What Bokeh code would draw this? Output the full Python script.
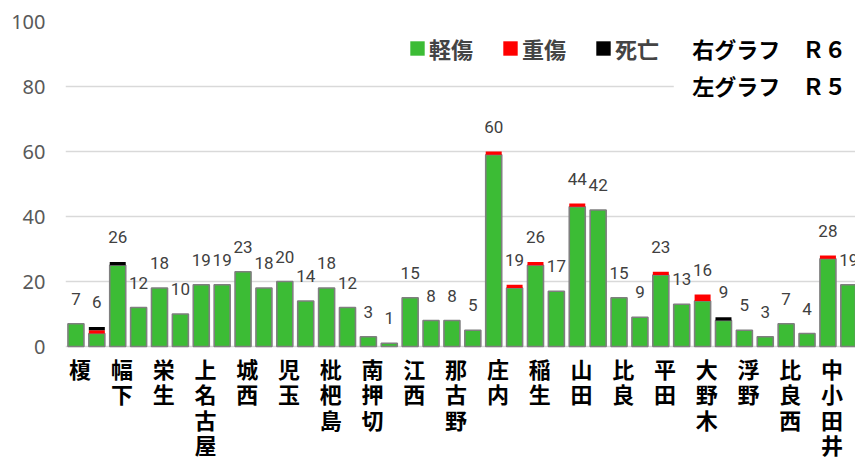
import numpy as np
from bokeh.plotting import figure
from bokeh.models import FixedTicker, Legend, LegendItem, Label, BoxAnnotation, ColumnDataSource, Range1d
from bokeh.core.properties import value
from bokeh.embed import file_html
from bokeh.resources import INLINE

categories = ["榎", "幅下", "栄生", "上名古屋", "城西", "児玉", "枇杷島", "南押切", "江西", "那古野",
              "庄内", "稲生", "山田", "比良", "平田", "大野木", "浮野", "比良西", "中小田井"]
# left bars: R5, right bars: R6
r5_minor   = [7, 25, 18, 19, 23, 20, 18, 3, 15, 8, 59, 25, 43, 15, 22, 14, 5, 7, 27]
r5_serious = [0, 0, 0, 0, 0, 0, 0, 0, 0, 0, 1, 1, 1, 0, 1, 2, 0, 0, 1]
r5_death   = [0, 1, 0, 0, 0, 0, 0, 0, 0, 0, 0, 0, 0, 0, 0, 0, 0, 0, 0]
r6_minor   = [4, 12, 10, 19, 18, 14, 12, 1, 8, 5, 18, 17, 42, 9, 13, 8, 3, 4, 19]
r6_serious = [1, 0, 0, 0, 0, 0, 0, 0, 0, 0, 1, 0, 0, 0, 0, 0, 0, 0, 0]
r6_death   = [1, 0, 0, 0, 0, 0, 0, 0, 0, 0, 0, 0, 0, 0, 0, 1, 0, 0, 0]
y_ticks = [0, 20, 40, 60, 80, 100]

GREEN = "#3cbc35"
RED = "#ff0000"
BLACK = "#000000"
JP = "Noto Sans CJK JP"

n = len(categories)
idx = np.arange(n)
BW = 0.383

p = figure(width=855, height=457, output_backend="svg", toolbar_location=None,
           x_range=Range1d(-0.5, 18.41), y_range=Range1d(-34.15, 100),
           x_axis_location=None,
           min_border_left=65, min_border_right=0, min_border_top=21, min_border_bottom=0)
p.outline_line_color = None
p.background_fill_color = "white"
p.border_fill_color = "white"

renderers = {}
for side, (mn, se, de) in {"L": (r5_minor, r5_serious, r5_death),
                           "R": (r6_minor, r6_serious, r6_death)}.items():
    mn = np.array(mn, dtype=float); se = np.array(se, dtype=float); de = np.array(de, dtype=float)
    xs = idx + (-0.25 if side == "L" else 0.25)
    src = ColumnDataSource(dict(x=xs, m0=np.zeros(n), m1=mn, s1=mn + se, d1=mn + se + de,
                                total=mn + se + de, lab=[str(int(v)) for v in mn + se + de]))
    p.vbar(x="x", bottom="m0", top="m1", width=BW, source=src, fill_color=GREEN,
           line_color="#7f7f7f", line_width=1.6)
    renderers["red"] = p.vbar(x="x", bottom="m1", top="s1", width=BW, source=src,
                              fill_color=RED, line_color=None)
    renderers["black"] = p.vbar(x="x", bottom="s1", top="d1", width=BW, source=src,
                                fill_color=BLACK, line_color=None)
    p.text(x="x", y="total", text="lab", source=src, text_align="center", text_baseline="middle",
           y_offset=-25, text_font=value("Roboto"), text_font_size="17px",
           text_color="#404040")

# legend-only swatch for 軽傷 (no outline, nothing drawn in the plot)
legend_green = p.vbar(x=[np.nan], top=[np.nan], width=BW, fill_color=GREEN, line_color=None)

# category labels (vertical Japanese text) under the zero line
cat_src = ColumnDataSource(dict(x=idx - 0.15, y=np.zeros(n), t=["\n".join(c) for c in categories]))
p.text(x="x", y="y", text="t", source=cat_src, text_align="center", text_baseline="top",
       y_offset=5, text_font=value(JP), text_font_style="bold", text_font_size="22px",
       text_line_height=0.8, text_color="black")

# y axis
p.yaxis.ticker = FixedTicker(ticks=y_ticks)
p.yaxis.axis_line_color = None
p.yaxis.major_tick_line_color = None
p.yaxis.minor_tick_line_color = None
p.yaxis.major_tick_out = 0
p.yaxis.major_tick_in = 0
p.yaxis.major_label_text_font = "Noto Sans"
p.yaxis.major_label_text_font_size = "20px"
p.yaxis.major_label_text_color = "#595959"
p.yaxis.major_label_standoff = 20

p.xgrid.visible = False
p.ygrid.ticker = FixedTicker(ticks=y_ticks)
p.ygrid.grid_line_color = "#d9d9d9"
p.ygrid.grid_line_width = 1.5

# white box behind the R6/R5 note
p.add_layout(BoxAnnotation(left=14.06, right=18.41, bottom=75.7, top=97,
                           fill_color="white", fill_alpha=1.0, line_color=None))
for txt, yy in [("右グラフ　Ｒ６", 91.7), ("左グラフ　Ｒ５", 80.6)]:
    p.add_layout(Label(x=14.5, y=yy, text=txt, text_font=JP, text_font_style="bold",
                       text_font_size="22px", text_baseline="middle", text_color="black"))

legend = Legend(items=[LegendItem(label="軽傷", renderers=[legend_green]),
                       LegendItem(label="重傷", renderers=[renderers["red"]]),
                       LegendItem(label="死亡", renderers=[renderers["black"]])],
                orientation="horizontal", location=(343, 393),
                label_text_font=JP, label_text_font_style="bold", label_text_font_size="22px",
                glyph_width=18, glyph_height=18, label_standoff=3, spacing=28,
                padding=0, margin=0, border_line_color=None, background_fill_alpha=0)
p.add_layout(legend)

open("out.html", "w").write(file_html(p, INLINE))
